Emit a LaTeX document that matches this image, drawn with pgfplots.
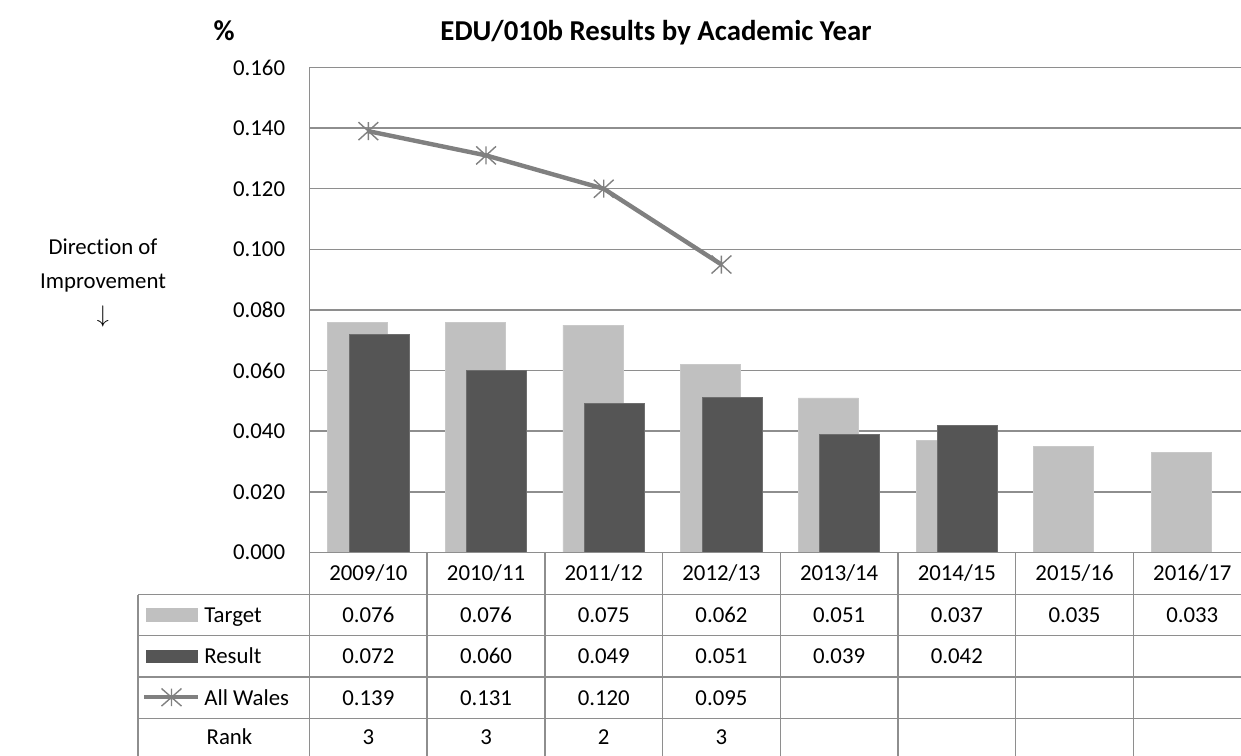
\documentclass[border=0pt]{standalone}
\usepackage{pgfplots}
\usepackage{pgfplotstable}
\pgfplotsset{compat=1.18}
\usepackage{fontspec}
\setmainfont{Carlito}[Ligatures={NoCommon}]
\definecolor{tgt}{HTML}{C0C0C0}
\definecolor{res}{HTML}{555555}
\definecolor{resedge}{HTML}{6E6E6E}
\definecolor{gridc}{HTML}{8E8E8E}
\definecolor{linec}{HTML}{808080}
\newcommand\fs{\fontsize{11.4}{13.7}\selectfont}
\newcommand\fst{\fontsize{14.4}{17}\selectfont}
\pgfdeclareplotmark{xstar}{%
  \pgfpathmoveto{\pgfqpoint{0pt}{\pgfplotmarksize}}%
  \pgfpathlineto{\pgfqpoint{0pt}{-\pgfplotmarksize}}%
  \pgfpathmoveto{\pgfqpoint{-1.1\pgfplotmarksize}{-\pgfplotmarksize}}%
  \pgfpathlineto{\pgfqpoint{1.1\pgfplotmarksize}{\pgfplotmarksize}}%
  \pgfpathmoveto{\pgfqpoint{-1.1\pgfplotmarksize}{\pgfplotmarksize}}%
  \pgfpathlineto{\pgfqpoint{1.1\pgfplotmarksize}{-\pgfplotmarksize}}%
  \pgfusepathqstroke}

\pgfplotstableread{
x y
0 0.076
1 0.076
2 0.075
3 0.062
4 0.051
5 0.037
6 0.035
7 0.033
}\tgtdata
\pgfplotstableread{
x y
0 0.072
1 0.060
2 0.049
3 0.051
4 0.039
5 0.042
}\resdata
\pgfplotstableread{
x y
0 0.139
1 0.131
2 0.120
3 0.095
}\waldata

\begin{document}
\begin{tikzpicture}[font=\fs]
\useasboundingbox (-154.75pt,-101.25pt) rectangle (465.75pt,276.25pt);
\begin{axis}[
  at={(0pt,0pt)}, anchor=south west,
  scale only axis, width=470.8pt, height=242.5pt,
  xmin=-0.5, xmax=7.5, ymin=0, ymax=0.16,
  ytick={0,0.02,0.04,0.06,0.08,0.10,0.12,0.14,0.16},
  xtick=\empty,
  scaled y ticks=false,
  ymajorgrids, grid style={gridc, line width=0.75pt},
  axis line style={draw=none},
  major tick length=0pt,
  /pgf/number format/fixed,
  /pgf/number format/fixed zerofill,
  /pgf/number format/precision=3,
  /pgf/number format/assume math mode=true,
  yticklabel style={font=\fs, anchor=east, inner sep=0pt, xshift=-12pt},
]
\addplot[ybar, bar width=0.51, bar shift=-0.092, fill=tgt, draw=tgt!85!white, line width=0.4pt] table[x=x,y=y]{\tgtdata};
\addplot[ybar, bar width=0.51, bar shift=0.091, fill=res, draw=resedge, line width=0.5pt] table[x=x,y=y]{\resdata};
\addplot[linec, line width=2.2pt, mark=xstar, mark size=4.5pt, mark options={line width=0.7pt, linec}] table[x=x,y=y]{\waldata};
\end{axis}
% axis line and table grid
\draw[gridc, line width=0.75pt] (0pt,242.5pt) -- (0pt,-110pt);
\draw[gridc, line width=0.75pt] (0pt,0pt) -- (472pt,0pt);
\foreach \yy in {-21,-41.6,-62.25,-82.9}
  \draw[gridc, line width=0.75pt] (-85.75pt,\yy pt) -- (472pt,\yy pt);
\draw[gridc, line width=0.75pt] (-85.75pt,-21pt) -- (-85.75pt,-110pt);
\foreach \k in {1,...,8}
  \draw[gridc, line width=0.75pt] ({\k*58.85pt},0pt) -- ({\k*58.85pt},-110pt);
% header row
\foreach \lab [count=\i from 0] in {2009/10,2010/11,2011/12,2012/13,2013/14,2014/15,2015/16,2016/17}
  \node[anchor=base, inner sep=0pt] at ({(\i+0.5)*58.85pt},-14.2pt) {\lab};
\foreach \lab [count=\i from 0] in {0.076,0.076,0.075,0.062,0.051,0.037,0.035,0.033}
  \node[anchor=base, inner sep=0pt] at ({(\i+0.5)*58.85pt},-35pt) {\lab};
\foreach \lab [count=\i from 0] in {0.072,0.060,0.049,0.051,0.039,0.042}
  \node[anchor=base, inner sep=0pt] at ({(\i+0.5)*58.85pt},-55.6pt) {\lab};
\foreach \lab [count=\i from 0] in {0.139,0.131,0.120,0.095}
  \node[anchor=base, inner sep=0pt] at ({(\i+0.5)*58.85pt},-76.3pt) {\lab};
\foreach \lab [count=\i from 0] in {3,3,2,3}
  \node[anchor=base, inner sep=0pt] at ({(\i+0.5)*58.85pt},-96pt) {\lab};
% legend column
\fill[tgt] (-81.75pt,-27.9pt) rectangle (-55.9pt,-34.6pt);
\fill[res] (-81.75pt,-48.5pt) rectangle (-55.9pt,-55.2pt);
\draw[linec, line width=2pt] (-82.5pt,-72.4pt) -- (-55.5pt,-72.4pt);
\draw[linec, line width=0.7pt] (-69pt,-68pt) -- (-69pt,-76.8pt)
  (-74pt,-68pt) -- (-64pt,-76.8pt) (-74pt,-76.8pt) -- (-64pt,-68pt);
\node[anchor=base west, inner sep=0pt] at (-52.75pt,-35pt) {Target};
\node[anchor=base west, inner sep=0pt] at (-52.75pt,-55.6pt) {Result};
\node[anchor=base west, inner sep=0pt] at (-52.75pt,-76.3pt) {All Wales};
\node[anchor=base, inner sep=0pt] at (-40pt,-96pt) {Rank};
% titles
\node[anchor=base, inner sep=0pt, font=\fst\bfseries] at (173.25pt,256pt) {EDU/010b Results by Academic Year};
\node[anchor=base, inner sep=0pt, font=\fst\bfseries] at (-42.75pt,256pt) {\%};
\node[anchor=base, inner sep=0pt] at (-103.25pt,149pt) {Direction of};
\node[anchor=base, inner sep=0pt] at (-103.25pt,132pt) {Improvement};
\node[inner sep=0pt, font=\fontsize{12}{14}\selectfont] at (-103.25pt,118pt) {$\downarrow$};
\end{tikzpicture}
\end{document}
